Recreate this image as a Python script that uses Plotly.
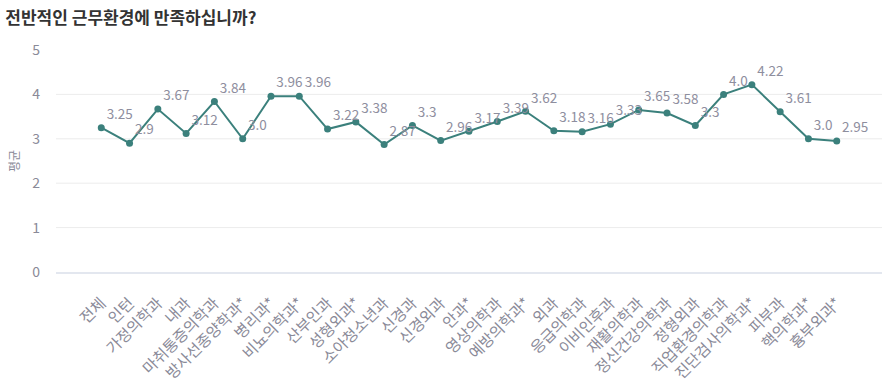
import plotly.graph_objects as go

categories = ["전체", "인턴", "가정의학과", "내과", "마취통증의학과", "방사선종양학과*", "병리과*",
              "비뇨의학과*", "산부인과", "성형외과*", "소아청소년과", "신경과", "신경외과", "안과*",
              "영상의학과", "예방의학과*", "외과", "응급의학과", "이비인후과", "재활의학과",
              "정신건강의학과", "정형외과", "직업환경의학과", "진단검사의학과*", "피부과",
              "핵의학과*", "흉부외과*"]
values = [3.25, 2.9, 3.67, 3.12, 3.84, 3.0, 3.96, 3.96, 3.22, 3.38, 2.87, 3.3, 2.96, 3.17,
          3.39, 3.62, 3.18, 3.16, 3.33, 3.65, 3.58, 3.3, 4.0, 4.22, 3.61, 3.0, 2.95]
labels = ["3.25", "2.9", "3.67", "3.12", "3.84", "3.0", "3.96", "3.96", "3.22", "3.38", "2.87",
          "3.3", "2.96", "3.17", "3.39", "3.62", "3.18", "3.16", "3.33", "3.65", "3.58", "3.3",
          "4.0", "4.22", "3.61", "3.0", "2.95"]
y_ticks = [0, 1, 2, 3, 4, 5]
grid_values = [1, 2, 3, 4]

FONT = "Noto Sans CJK KR"
LINE = "#3b807c"
GREY = "#8a8a98"

fig = go.Figure()
fig.add_trace(go.Scatter(
    x=list(range(len(categories))), y=values, mode="lines+markers+text",
    text=labels, textposition="top right",
    textfont=dict(family=FONT, size=13.5, color="#8e8e9e"),
    line=dict(color=LINE, width=2), marker=dict(color=LINE, size=7),
    cliponaxis=False, hoverinfo="skip",
))

for g in grid_values:
    fig.add_shape(type="line", xref="paper", yref="y", x0=0, x1=1, y0=g, y1=g,
                  line=dict(color="#ececec", width=1), layer="below")

fig.update_layout(
    width=889, height=392,
    margin=dict(l=56, r=7, t=50, b=120),
    paper_bgcolor="white", plot_bgcolor="white",
    showlegend=False,
    font=dict(family=FONT),
    title=dict(text="<b>전반적인 근무환경에 만족하십니까?</b>", x=0.006, xanchor="left",
               y=0.955, yanchor="middle",
               font=dict(family=FONT, size=17, color="#333333")),
    xaxis=dict(
        tickmode="array", tickvals=list(range(len(categories))), ticktext=categories,
        tickangle=-45, tickfont=dict(family=FONT, size=15.5, color=GREY),
        range=[-1.6, 27.6], showgrid=False, zeroline=False, automargin=False,
        showline=True, linecolor="#e3e7ef", linewidth=2, ticks="",
        ticklabelstandoff=14,
    ),
    yaxis=dict(
        range=[0, 5], tickvals=y_ticks, showgrid=False, zeroline=False, automargin=False,
        tickfont=dict(family=FONT, size=14, color=GREY),
        ticklabelstandoff=15,
        title=dict(text="평균", font=dict(family=FONT, size=12, color=GREY), standoff=10),
    ),
)

fig.write_html("out.html", post_script="document.body.style.margin='0';",
               config={"displayModeBar": False})
